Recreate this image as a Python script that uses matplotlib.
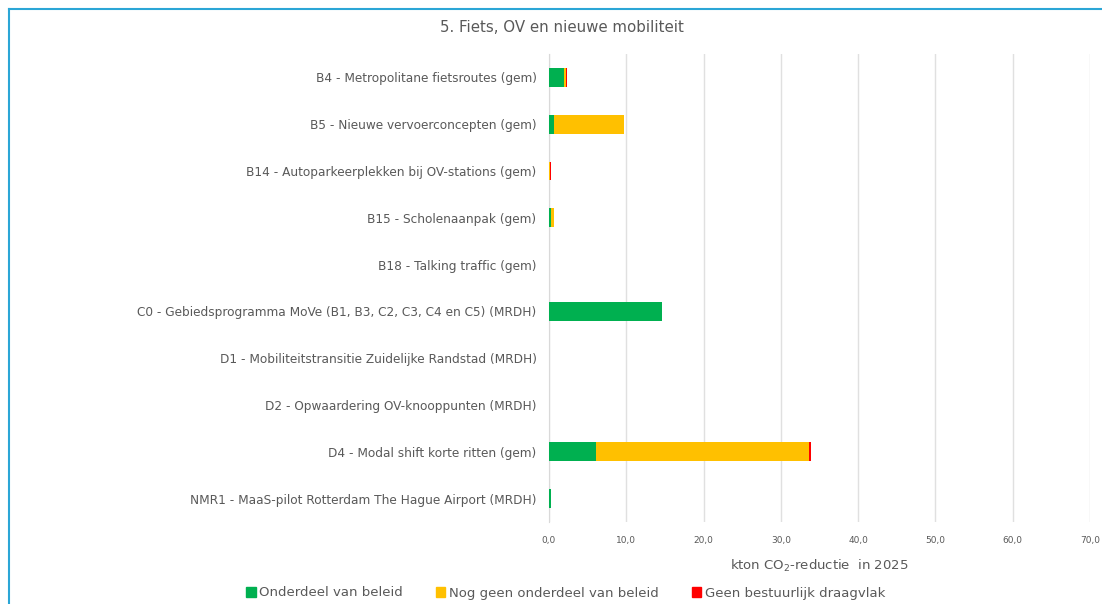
import matplotlib
matplotlib.use("Agg")
import matplotlib.pyplot as plt
from matplotlib.patches import Rectangle
from matplotlib.lines import Line2D
import numpy as np

categories = [
    "B4 - Metropolitane fietsroutes (gem)",
    "B5 - Nieuwe vervoerconcepten (gem)",
    "B14 - Autoparkeerplekken bij OV-stations (gem)",
    "B15 - Scholenaanpak (gem)",
    "B18 - Talking traffic (gem)",
    "C0 - Gebiedsprogramma MoVe (B1, B3, C2, C3, C4 en C5) (MRDH)",
    "D1 - Mobiliteitstransitie Zuidelijke Randstad (MRDH)",
    "D2 - Opwaardering OV-knooppunten (MRDH)",
    "D4 - Modal shift korte ritten (gem)",
    "NMR1 - MaaS-pilot Rotterdam The Hague Airport (MRDH)",
]
onderdeel = [2.0, 0.6, 0.05, 0.2, 0.0, 14.6, 0.0, 0.0, 6.1, 0.2]
nog_geen = [0.15, 9.1, 0.1, 0.4, 0.0, 0.0, 0.0, 0.0, 27.5, 0.0]
geen_draagvlak = [0.15, 0.0, 0.15, 0.0, 0.0, 0.0, 0.0, 0.0, 0.3, 0.0]
series_names = ["Onderdeel van beleid", "Nog geen onderdeel van beleid", "Geen bestuurlijk draagvlak"]
colors = ["#00B050", "#FFC000", "#FF0000"]
xticks = [0, 10, 20, 30, 40, 50, 60, 70]

W, H = 1102, 604
plt.rcParams['font.family'] = ['DejaVu Sans']
fig = plt.figure(figsize=(W / 100, H / 100), dpi=100)
txt = "#595959"

# frame lines (top and left border)
fig.add_artist(Line2D([9 / W, 1.0], [1 - 9 / H, 1 - 9 / H], color="#2BA6D6", lw=1.5, transform=fig.transFigure))
fig.add_artist(Line2D([9 / W, 9 / W], [0, 1 - 9 / H], color="#2BA6D6", lw=1.5, transform=fig.transFigure))

ax = fig.add_axes([549 / W, 1 - 522 / H, (1090 - 549) / W, (522 - 54) / H])
y = np.arange(len(categories))
left = np.zeros(len(categories))
for vals, c, name in zip([onderdeel, nog_geen, geen_draagvlak], colors, series_names):
    ax.barh(y, vals, left=left, height=0.4, color=c, label=name, zorder=3)
    left = left + np.array(vals)

ax.set_ylim(len(categories) - 0.5, -0.5)
ax.set_xlim(0, 70)
ax.set_yticks(y)
ax.set_yticklabels(categories, fontsize=8.7, color=txt)
ax.set_xticks(xticks)
ax.set_xticklabels([f"{v:.1f}".replace(".", ",") for v in xticks], fontsize=6.5, color=txt)
ax.tick_params(axis="both", length=0)
ax.tick_params(axis="x", pad=10)
ax.tick_params(axis="y", pad=9)
for s in ["top", "right", "bottom"]:
    ax.spines[s].set_visible(False)
ax.spines["left"].set_color("#D9D9D9")
ax.grid(axis="x", color="#E0E0E0", lw=1, zorder=0)
ax.set_axisbelow(True)

fig.text(562 / W, 1 - 28 / H, "5. Fiets, OV en nieuwe mobiliteit", ha="center", va="center",
         fontsize=10.8, color=txt)
fig.text(819 / W, 1 - 566 / H, "kton CO$_2$-reductie  in 2025", ha="center", va="center",
         fontsize=9.5, color=txt)

handles = [Rectangle((0, 0), 1, 1, color=c) for c in colors]
fig.legend(handles, series_names, loc="center", bbox_to_anchor=(566 / W, 1 - 593 / H), ncol=3,
           frameon=False, fontsize=9.5, labelcolor=txt, handlelength=0.7, handleheight=0.7,
           handletextpad=0.3, columnspacing=2.5)

fig.savefig("out.png", dpi=100, facecolor="white")
